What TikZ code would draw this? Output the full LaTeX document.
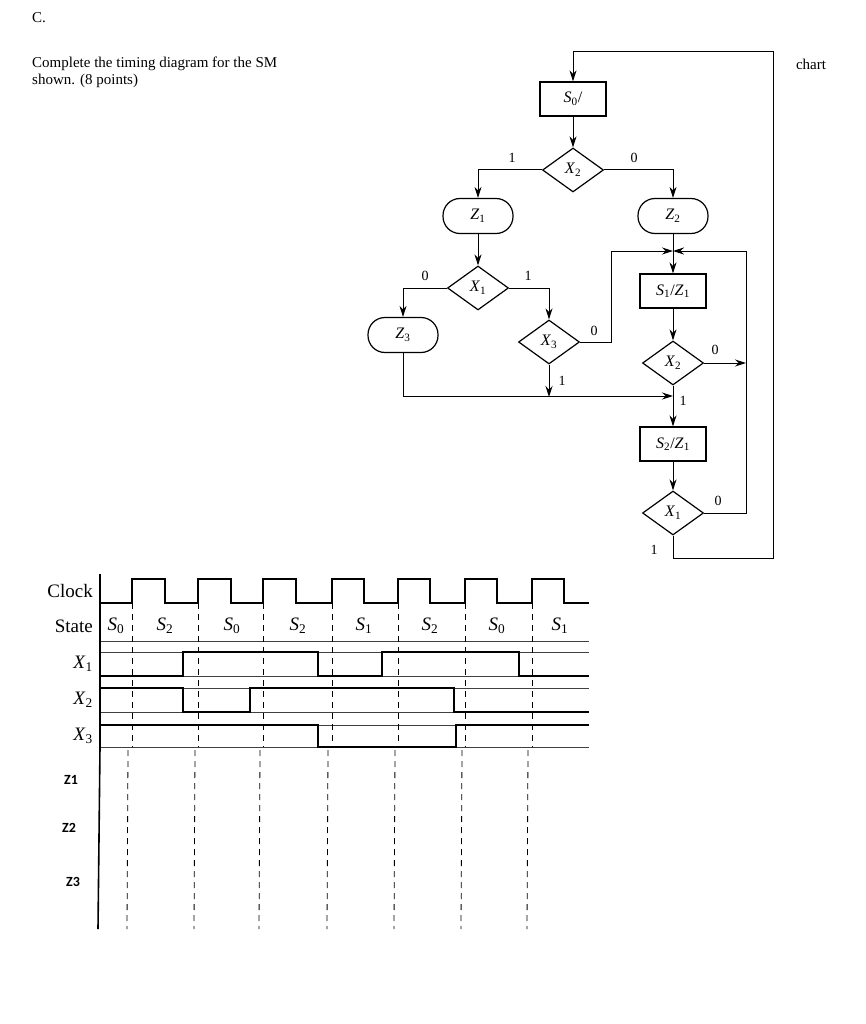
\documentclass[tikz,border=0pt]{standalone}
\usepackage{fontspec}
\setmainfont{Liberation Serif}
\newfontfamily\zfont{Carlito}
\newcommand\vv[2]{\textit{#1}\textsubscript{#2}}
\usetikzlibrary{shapes.geometric,arrows.meta}
\begin{document}
\begin{tikzpicture}[x=1pt,y=-1pt,
  >={Stealth[length=11pt,width=7pt]},
  fl/.style={line width=1pt},
  sbox/.style={draw,line width=1.2pt,minimum width=66pt,minimum height=34pt,inner sep=0pt,font=\fontsize{16}{16}\selectfont},
  dia/.style={draw,diamond,line width=1.2pt,minimum width=61pt,minimum height=44pt,inner sep=0pt,font=\fontsize{16}{16}\selectfont},
  obox/.style={draw,rounded corners=17pt,line width=1.2pt,minimum width=70pt,minimum height=35pt,inner sep=0pt,font=\fontsize{16}{16}\selectfont},
  lab/.style={font=\fontsize{14}{14}\selectfont,inner sep=0pt},
  sig/.style={line width=1.6pt},
  sep/.style={line width=0.9pt,black!75},
  dsh/.style={dashed,line width=0.8pt,dash pattern=on 6pt off 5pt},
  rowlab/.style={anchor=east,font=\fontsize{19}{19}\selectfont,inner sep=0pt},
  st/.style={font=\fontsize{19}{19}\selectfont,inner sep=0pt},
  zl/.style={font=\zfont\bfseries\fontsize{14}{14}\selectfont,inner sep=0pt}]
\useasboundingbox (0,0) rectangle (866,1024);
% header text
\node[anchor=west,font=\fontsize{15}{15}\selectfont,inner sep=0pt] (c) at (32,18) {C.};
\node[anchor=north west,align=left,font=\fontsize{15}{17}\selectfont,inner sep=0pt] (t) at (32,57) {Complete the timing diagram for the SM\\shown. (8 points)};
\node[font=\fontsize{15}{15}\selectfont,inner sep=0pt] (ch) at (811,64) {chart};
% flowchart nodes
\node[sbox] (s0) at (573,99) {\vv{S}{0}/};
\node[dia] (d1) at (573,170) {\vv{X}{2}};
\node[obox] (z1) at (478,216) {\vv{Z}{1}};
\node[obox] (z2) at (673,216) {\vv{Z}{2}};
\node[dia] (d2) at (478,288) {\vv{X}{1}};
\node[obox] (z3) at (403,335) {\vv{Z}{3}};
\node[dia] (d3) at (549,342) {\vv{X}{3}};
\node[sbox] (s1) at (673,291) {\vv{S}{1}/\vv{Z}{1}};
\node[dia] (d4) at (673,363) {\vv{X}{2}};
\node[sbox] (s2) at (673,444) {\vv{S}{2}/\vv{Z}{1}};
\node[dia] (d5) at (673,513) {\vv{X}{1}};
\coordinate (m1) at (673,251);
\coordinate (m2) at (673,396);
\coordinate (rb) at (746,251);
\coordinate (top) at (573,52);
% connectors
\draw[fl,->] (s0) -- (d1);
\draw[fl,->] (d1.west) -| (z1.north);
\draw[fl,->] (d1.east) -| (z2.north);
\draw[fl,->] (z1) -- (d2);
\draw[fl,->] (d2.west) -| (z3.north);
\draw[fl,->] (d2.east) -| (d3.north);
\draw[fl] (z2.south) -- (m1);
\draw[fl,->] (m1) -- (s1.north);
\draw[fl,->] (d3.east) -- (611,342) -- (611,251) -- (m1);
\draw[fl,->] (d5.east) -- (746,513) -- (rb) -- (m1);
\draw[fl,->] (d4.east) -- (746,363);
\draw[fl,->] (s1) -- (d4);
\draw[fl,->] (d3.south) -- (549,397);
\draw[fl,->] (z3.south) -- (403,396) -- (m2);
\draw[fl,->] (d4.south) -- (s2.north);
\draw[fl,->] (s2) -- (d5);
\draw[fl,->] (d5.south) -- (673,558) -- (773,558) -- (773,52) -- (top) -- (s0.north);
% branch labels
\node[lab] (l1) at (512,158) {1};
\node[lab] (l2) at (634,158) {0};
\node[lab] (l3) at (425,276) {0};
\node[lab] (l4) at (528,276) {1};
\node[lab] (l5) at (594,331) {0};
\node[lab] (l6) at (562,381) {1};
\node[lab] (l7) at (715,350) {0};
\node[lab] (l8) at (683,401) {1};
\node[lab] (l9) at (718,501) {0};
\node[lab] (l10) at (654,550) {1};
% timing diagram
\node[rowlab] (rc) at (93,591) {Clock};
\node[rowlab] (rs) at (93,626) {State};
\node[rowlab] (r1) at (93,664) {\vv{X}{1}};
\node[rowlab] (r2) at (93,700) {\vv{X}{2}};
\node[rowlab] (r3) at (93,736) {\vv{X}{3}};
\draw[sep] (100,641) -- (589,641);
\draw[sep] (100,652) -- (589,652);
\draw[sep] (100,688) -- (589,688);
\draw[sep] (100,676) -- (589,676);
\draw[sep] (100,712) -- (589,712);
\draw[sep] (100,725) -- (589,725);
\draw[sep] (100,747) -- (589,747);
\draw[sig] (100,603) -- (132,603) -- (132,579) -- (165,579) -- (165,603) -- (198,603) -- (198,579) -- (231,579) -- (231,603)
 -- (263,603) -- (263,579) -- (296,579) -- (296,603) -- (332,603) -- (332,579) -- (364,579) -- (364,603)
 -- (398,603) -- (398,579) -- (430,579) -- (430,603) -- (465,603) -- (465,579) -- (497,579) -- (497,603)
 -- (532,603) -- (532,579) -- (564,579) -- (564,603) -- (589,603);
\draw[sig] (100,676) -- (183,676) -- (183,652) -- (318,652) -- (318,676) -- (382,676) -- (382,652) -- (519,652) -- (519,676) -- (589,676);
\draw[sig] (100,688) -- (183,688) -- (183,712) -- (250,712) -- (250,688) -- (454,688) -- (454,712) -- (589,712);
\draw[sig] (100,725) -- (318,725) -- (318,747) -- (456,747) -- (456,725) -- (589,725);
\draw[line width=1.6pt] (100,574) -- (100,747) -- (98,929);
\foreach \x in {132,198,263,332,398,465,532} \draw[dsh] (\x,603) -- (\x,747);
\foreach \x in {128,195,260,328,395,462,528} \draw[dsh] (\x,750) -- (\x-1,929);
\node[st] (q0) at (116,626) {\vv{S}{0}};
\node[st] (q1) at (165,626) {\vv{S}{2}};
\node[st] (q2) at (232,626) {\vv{S}{0}};
\node[st] (q3) at (298,626) {\vv{S}{2}};
\node[st] (q4) at (364,626) {\vv{S}{1}};
\node[st] (q5) at (430,626) {\vv{S}{2}};
\node[st] (q6) at (497,626) {\vv{S}{0}};
\node[st] (q7) at (560,626) {\vv{S}{1}};
\node[zl] (za) at (71,780) {Z1};
\node[zl] (zb) at (69,828) {Z2};
\node[zl] (zc) at (73,882) {Z3};
\end{tikzpicture}
\end{document}
